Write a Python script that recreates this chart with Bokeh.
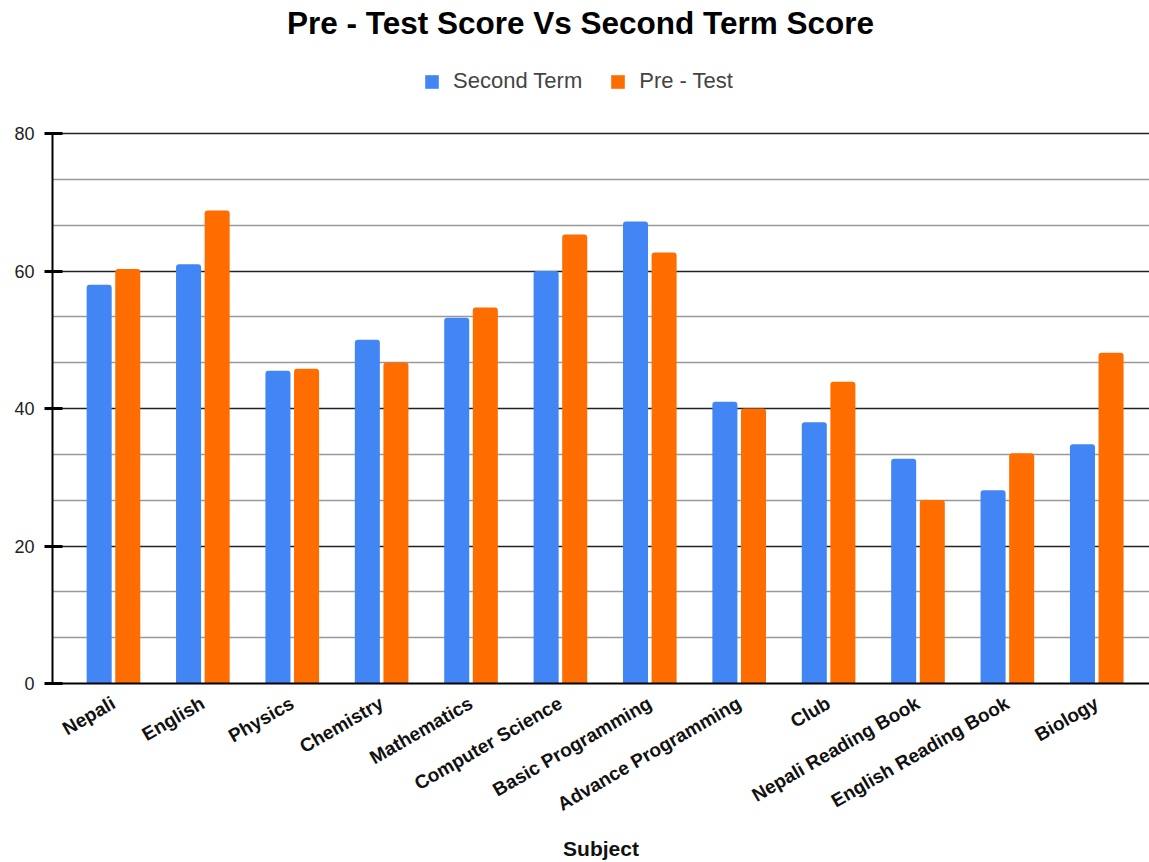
from bokeh.plotting import figure
from bokeh.models import (Range1d, FixedTicker, Legend, LegendItem, ColumnDataSource, Label)
from bokeh.transform import dodge
from bokeh.embed import file_html
from bokeh.resources import INLINE
import math

title_text = "Pre - Test Score Vs Second Term Score"
subjects = ["Nepali", "English", "Physics", "Chemistry", "Mathematics", "Computer Science",
            "Basic Programming", "Advance Programming", "Club", "Nepali Reading Book",
            "English Reading Book", "Biology"]
second_term = [58, 61, 45.5, 50, 53.2, 60, 67.2, 41, 38, 32.7, 28.1, 34.8]
pre_test = [60.3, 68.8, 45.8, 46.7, 54.7, 65.3, 62.7, 40, 43.9, 26.7, 33.5, 48.1]
y_ticks = [0, 20, 40, 60, 80]
y_minor = [20 / 3 * k for k in range(1, 12) if k % 3 != 0]

xpos = list(range(len(subjects)))
src = ColumnDataSource(dict(x=xpos, second=second_term, pre=pre_test))

FONT = "Liberation Sans"

FRAME_H = 683
PX_PER_UNIT = 550 / 80.0
p = figure(frame_width=1097, frame_height=FRAME_H, output_backend="svg", toolbar_location=None,
           x_range=Range1d(-0.682, 11.59), y_range=Range1d(0, FRAME_H / PX_PER_UNIT),
           min_border_left=52, min_border_right=0, min_border_bottom=177,
           min_border_top=0)
p.outline_line_color = None

r1 = p.vbar(x=dodge("x", -0.16), top="second", width=0.28, source=src,
            fill_color="#4285F4", line_color=None, border_radius=(3, 3, 0, 0))
r2 = p.vbar(x=dodge("x", 0.16), top="pre", width=0.28, source=src,
            fill_color="#FF6D01", line_color=None, border_radius=(3, 3, 0, 0))

# title (as a text annotation in the upper part of the frame)
title = Label(x=528, y=661, x_units="screen", y_units="screen", text=title_text,
              text_align="center", text_baseline="middle", text_font=FONT,
              text_font_size="31.5px", text_font_style="bold", text_color="#000000")
p.add_layout(title)

# legend (above the 80 line)
legend = Legend(items=[LegendItem(label="Second Term", renderers=[r1]),
                       LegendItem(label="Pre - Test", renderers=[r2])],
                orientation="horizontal", location=(371, 589))
legend.label_text_font = FONT
legend.label_text_font_size = "22px"
legend.label_text_color = "#444444"
legend.glyph_width = 17
legend.glyph_height = 17
legend.label_height = 17
legend.label_standoff = 13
legend.spacing = 27
legend.padding = 0
legend.margin = 0
legend.border_line_color = None
legend.background_fill_alpha = 0
p.add_layout(legend, "center")

# y axis
yt = FixedTicker(ticks=y_ticks, minor_ticks=y_minor)
p.yaxis.ticker = yt
p.ygrid.ticker = yt
p.yaxis.bounds = (0, 80)
p.yaxis.axis_line_color = "#000000"
p.yaxis.axis_line_width = 2
p.yaxis.major_tick_line_color = "#000000"
p.yaxis.major_tick_line_width = 3
p.yaxis.major_tick_in = 10
p.yaxis.major_tick_out = 8
p.yaxis.minor_tick_line_color = None
p.yaxis.major_label_text_font = FONT
p.yaxis.major_label_text_font_size = "18px"
p.yaxis.major_label_text_color = "#222222"
p.yaxis.major_label_standoff = 10

p.ygrid.grid_line_color = "#222222"
p.ygrid.grid_line_width = 1.5
p.ygrid.minor_grid_line_color = "#999999"
p.ygrid.minor_grid_line_width = 1.5
p.xgrid.grid_line_color = None

# x axis
p.xaxis.ticker = FixedTicker(ticks=xpos)
p.xaxis.major_label_overrides = {i: s for i, s in enumerate(subjects)}
p.xaxis.major_label_orientation = math.pi / 6
p.xaxis.major_label_text_font = FONT
p.xaxis.major_label_text_font_size = "19px"
p.xaxis.major_label_text_font_style = "bold"
p.xaxis.major_label_text_color = "#111111"
p.xaxis.major_tick_line_color = None
p.xaxis.minor_tick_line_color = None
p.xaxis.axis_line_color = "#000000"
p.xaxis.axis_line_width = 2
p.xaxis.major_label_standoff = 12
p.xaxis.axis_label = "Subject"
p.xaxis.axis_label_text_font = FONT
p.xaxis.axis_label_text_font_size = "21px"
p.xaxis.axis_label_text_font_style = "bold"
p.xaxis.axis_label_text_color = "#111111"
p.xaxis.axis_label_standoff = 10

open("out.html", "w").write(file_html(p, INLINE))
